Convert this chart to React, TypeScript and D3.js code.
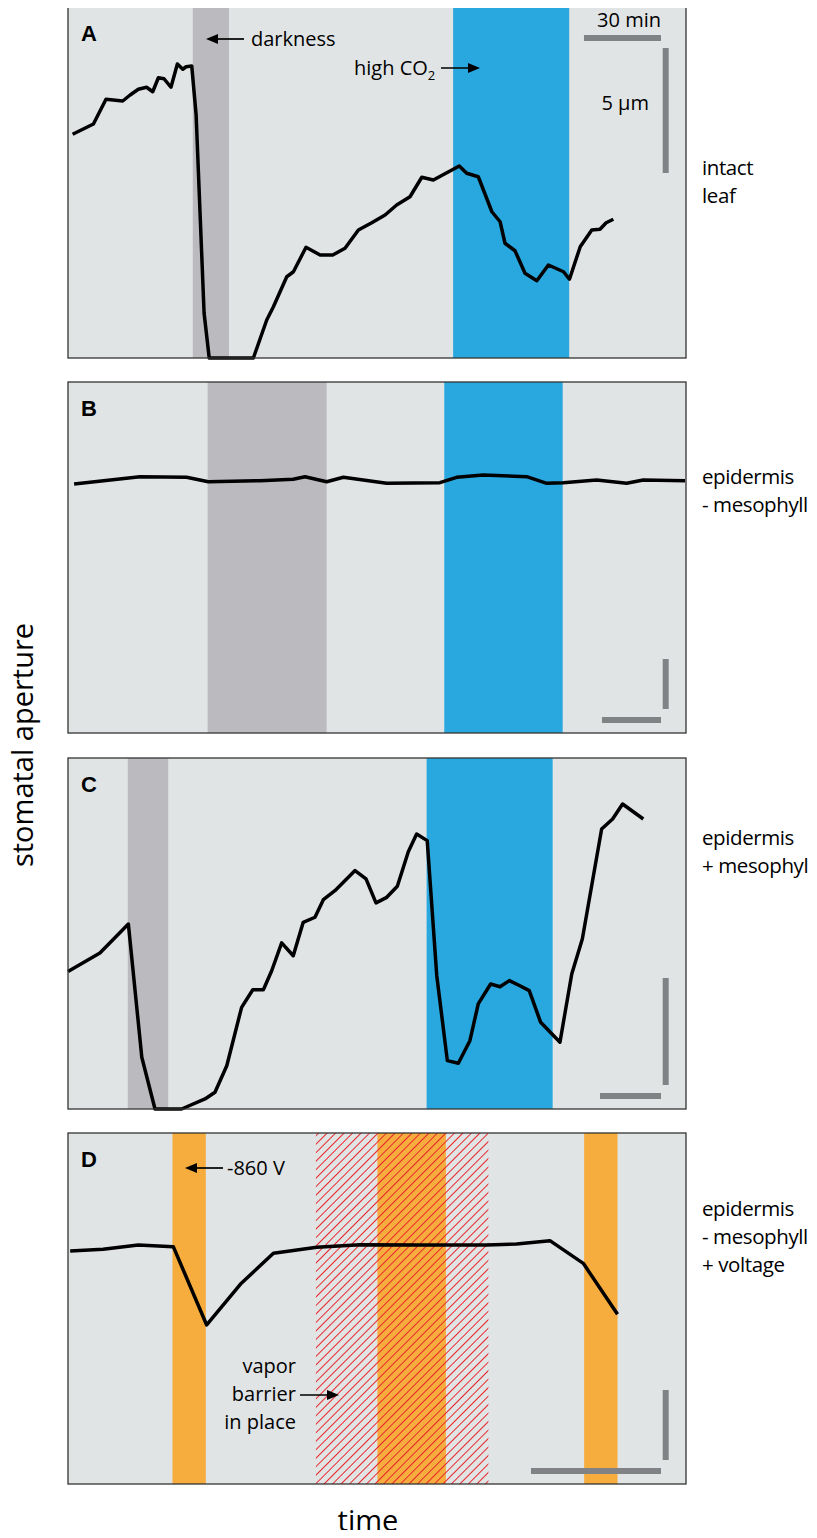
import React from "react";
import * as d3 from "d3";

// time in minutes, aperture in µm (each panel has its own scale bar)
const timeA = [1.8, 9.9, 14.8, 21.3, 24.2, 27.4, 30.6, 33.0, 35.2, 37.4, 40.1, 42.6, 44.7, 46.0, 48.2, 49.9, 53.0, 55.0, 72.2, 77.4, 80.0, 85.2, 87.8, 92.7, 98.2, 103.1, 107.9, 113.1, 118.3, 123.5, 128.0, 133.2, 137.8, 142.3, 152.4, 155.3, 159.8, 165.1, 168.3, 170.2, 174.1, 178.0, 182.6, 187.1, 193.0, 195.3, 199.5, 204.0, 207.2, 209.6, 212.4];
const apertureA = [8.95, 9.36, 10.35, 10.28, 10.52, 10.75, 10.83, 10.65, 11.21, 11.17, 10.83, 11.76, 11.55, 11.65, 11.68, 9.72, 1.8, 0, 0, 1.52, 2.05, 3.25, 3.45, 4.43, 4.12, 4.12, 4.39, 5.12, 5.41, 5.72, 6.12, 6.45, 7.23, 7.12, 7.68, 7.39, 7.25, 5.85, 5.45, 4.59, 4.29, 3.39, 3.09, 3.72, 3.45, 3.15, 4.45, 5.12, 5.15, 5.41, 5.55];

const timeB = [3.1, 36.6, 60.3, 71.3, 97.6, 114.5, 120.5, 131.5, 140.0, 162.0, 189.1, 197.6, 211.1, 233.2, 243.4, 251.8, 268.8, 284.0, 292.5, 313.7];
const apertureB = [24.9, 25.63, 25.57, 25.13, 25.23, 25.37, 25.63, 25.13, 25.57, 24.97, 25.03, 25.57, 25.8, 25.63, 24.97, 25.03, 25.3, 24.97, 25.3, 25.23];

const timeC = [0, 15.7, 29.7, 36.3, 42.8, 55.9, 67.4, 72.3, 78.1, 85.4, 90.9, 96.1, 100.2, 105.1, 110.8, 115.7, 121.5, 125.6, 131.3, 141.2, 146.6, 151.5, 156.8, 162.0, 167.4, 171.5, 176.7, 181.4, 186.6, 192.0, 197.7, 201.8, 207.9, 212.5, 217.1, 222.3, 226.9, 232.5, 242.0, 247.8, 253.0, 262.5, 267.9, 272.8, 283.0];
const apertureC = [6.42, 7.29, 8.64, 2.42, 0, 0, 0.47, 0.78, 2.02, 4.75, 5.57, 5.57, 6.46, 7.76, 7.16, 8.72, 8.96, 9.78, 10.2, 11.14, 10.75, 9.63, 9.89, 10.41, 12.02, 12.85, 12.54, 6.23, 2.26, 2.14, 3.19, 4.91, 5.84, 5.71, 6.0, 5.76, 5.53, 4.05, 3.12, 6.31, 7.94, 13.08, 13.55, 14.25, 13.55];

const timeD = [0.5, 8.1, 16.2, 24.3, 32.0, 40.0, 47.4, 57.4, 67.4, 81.2, 96.6, 103.5, 111.2, 118.9, 126.8];
const apertureD = [16.64, 16.76, 17.07, 16.95, 11.36, 14.34, 16.48, 16.91, 17.09, 17.07, 17.07, 17.14, 17.38, 15.76, 12.12];

// treatment periods [start, end] in minutes
const darkA = [48.6, 62.7];
const co2A = [150, 195.2];
const darkB = [71.0, 131.5];
const co2B = [191.3, 251.5];
const darkC = [29.4, 49.3];
const co2C = [176.4, 238.4];
const voltageD = [[24.1, 31.8], [71.4, 87.2], [119.1, 126.8]];
const barrierD = [57.2, 97.0];

// visible window per panel
const spanMin = [240.7, 314.2, 304, 142.6];
const spanUm = [14.04, 35.1, 16.4, 25.07];

const sideLabels = [["intact", "leaf"], ["epidermis", "- mesophyll"], ["epidermis", "+ mesophyll"], ["epidermis", "- mesophyll", "+ voltage"]];
const panelLetters = ["A", "B", "C", "D"];

const W = 817;
const H = 1538;
const left = 68;
const pw = 618;
const ph = 351;
const tops = [7, 382, 758, 1133];
const labelY = [175, 484, 845, 1216];

const bg = "#e1e4e5";
const grey = "#bbbbbf";
const blue = "#29a8e0";
const orange = "#f6ad3d";
const red = "#e8262b";
const barCol = "#808285";
const font = "'Open Sans', 'Noto Sans', sans-serif";

function Arrow({ x1, x2, y }) {
  const dir = Math.sign(x2 - x1);
  return (
    <g>
      <line x1={x1} x2={x2 - dir * 6} y1={y} y2={y} stroke="#000" strokeWidth={1.7} />
      <path d={`M${x2},${y} L${x2 - dir * 12},${y - 5} L${x2 - dir * 12},${y + 5} Z`} fill="#000" />
    </g>
  );
}

function Panel({ i, time, aperture, bands, children }) {
  const top = tops[i];
  const x = d3.scaleLinear().domain([0, spanMin[i]]).range([left, left + pw]);
  const y = d3.scaleLinear().domain([0, spanUm[i]]).range([top + ph, top]);
  const pts = time.map((t, k) => [t, aperture[k]]);
  const line = d3.line().x(d => x(d[0])).y(d => y(d[1]));
  const hLen = x(30) - x(0);
  const vLen = y(0) - y(5);
  const barRight = 661;
  const vx = 665.7;
  let hY, vTop;
  if (i === 0) {
    hY = top + 31;
    vTop = top + 41;
  } else {
    hY = top + ph - 13;
    vTop = top + ph - 24 - vLen;
  }
  return (
    <g>
      <rect x={left} y={top} width={pw} height={ph} fill={bg} />
      {bands.map((b, k) => (
        <rect key={k} x={x(b.r[0])} y={top} width={x(b.r[1]) - x(b.r[0])} height={ph} fill={b.fill} />
      ))}
      {children && children(x, y, top)}
      <path d={line(pts)} fill="none" stroke="#000" strokeWidth={3.5} strokeLinejoin="round" />
      <rect x={left} y={top} width={pw} height={ph} fill="none" stroke="#333" strokeWidth={1.3} />
      <line x1={barRight - hLen} x2={barRight} y1={hY} y2={hY} stroke={barCol} strokeWidth={6} />
      <line x1={vx} x2={vx} y1={vTop} y2={vTop + vLen} stroke={barCol} strokeWidth={6} />
      <text x={left + 13} y={top + 34} fontFamily="'Liberation Sans', Arial, sans-serif" fontWeight="bold" fontSize={22}>{panelLetters[i]}</text>
      {sideLabels[i].map((s, k) => (
        <text key={k} x={702} fontSize={20.5} letterSpacing={-0.4} y={labelY[i] + k * 28}>{s}</text>
      ))}
    </g>
  );
}

export default function App() {
  return (
    <svg width={W} height={H} style={{ display: "block", margin: "-8px" }} fontFamily={font}>
      <defs>
        <pattern id="hatch" patternUnits="userSpaceOnUse" width={6} height={6} patternTransform="rotate(45)">
          <line x1={0} y1={-1} x2={0} y2={7} stroke={red} strokeWidth={2} />
        </pattern>
      </defs>
      <rect width={W} height={H} fill="#fff" />

      <Panel i={0} time={timeA} aperture={apertureA} bands={[{ r: darkA, fill: grey }, { r: co2A, fill: blue }]} />
      <Panel i={1} time={timeB} aperture={apertureB} bands={[{ r: darkB, fill: grey }, { r: co2B, fill: blue }]} />
      <Panel i={2} time={timeC} aperture={apertureC} bands={[{ r: darkC, fill: grey }, { r: co2C, fill: blue }]} />
      <Panel i={3} time={timeD} aperture={apertureD}
        bands={voltageD.map(r => ({ r, fill: orange }))}>
        {(x, y, top) => (
          <rect x={x(barrierD[0])} y={top} width={x(barrierD[1]) - x(barrierD[0])} height={ph} fill="url(#hatch)" />
        )}
      </Panel>

      {/* annotations */}
      <Arrow x1={244} x2={206} y={39} />
      <text x={251} y={46} fontSize={20}>darkness</text>
      <text x={354} y={75} fontSize={20}>high CO<tspan fontSize={13} dy={5}>2</tspan></text>
      <Arrow x1={441} x2={480} y={68} />
      <text x={661} y={27} fontSize={20} textAnchor="end">30 min</text>
      <text x={649} y={110} fontSize={20} textAnchor="end">5 µm</text>

      <Arrow x1={223} x2={185} y={1168} />
      <text x={227} y={1175} fontSize={20}>-860 V</text>
      <text x={296} y={1373} fontSize={20} textAnchor="end">vapor</text>
      <text x={296} y={1401} fontSize={20} textAnchor="end">barrier</text>
      <text x={296} y={1429} fontSize={20} textAnchor="end">in place</text>
      <Arrow x1={300} x2={339} y={1395} />

      <text transform="translate(33,745) rotate(-90)" textAnchor="middle" fontSize={29}>stomatal aperture</text>
      <text x={368} y={1531} textAnchor="middle" fontSize={29}>time</text>
    </svg>
  );
}
